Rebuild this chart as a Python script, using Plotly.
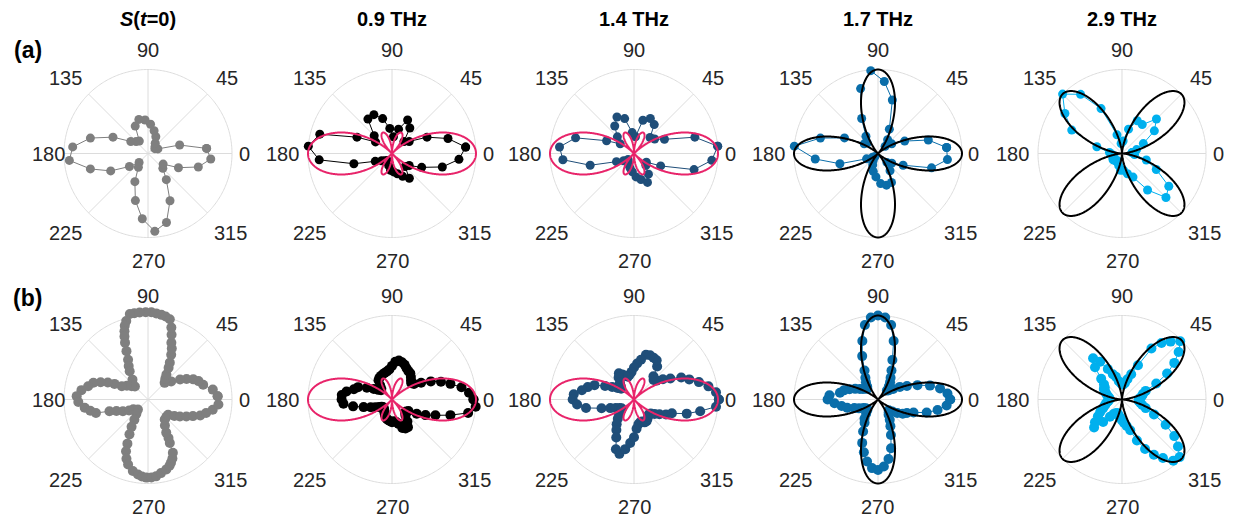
import numpy as np
import plotly.graph_objects as go

# ---------------- data ----------------
theta_a = list(range(5, 360, 10))          # row (a): 36 angles
theta_b = list(range(0, 360, 5))           # row (b): 72 angles

r_a_s0 = [0.70, 0.39, 0.13, 0.10, 0.12, 0.15, 0.22, 0.28, 0.35, 0.40, 0.42, 0.36,
          0.18, 0.20, 0.25, 0.46, 0.71, 0.90, 0.94, 0.71, 0.49, 0.27, 0.15, 0.20,
          0.37, 0.58, 0.78, 0.93, 0.85, 0.62, 0.38, 0.25, 0.22, 0.40, 0.62, 0.75]
r_a_09 = [0.88, 0.69, 0.46, 0.25, 0.20, 0.37, 0.44, 0.30, 0.20, 0.30, 0.43, 0.51,
          0.50, 0.30, 0.24, 0.46, 0.89, 1.00, 0.87, 0.47, 0.22, 0.15, 0.12, 0.10,
          0.12, 0.15, 0.20, 0.22, 0.25, 0.30, 0.36, 0.22, 0.25, 0.39, 0.62, 0.80]
r_a_14 = [1.00, 0.75, 0.40, 0.30, 0.27, 0.42, 0.46, 0.41, 0.20, 0.25, 0.43, 0.48,
          0.40, 0.28, 0.20, 0.36, 0.72, 0.89, 0.85, 0.54, 0.23, 0.15, 0.10, 0.12,
          0.15, 0.18, 0.22, 0.28, 0.32, 0.38, 0.30, 0.20, 0.18, 0.35, 0.74, 0.93]
r_a_17 = [0.82, 0.62, 0.35, 0.20, 0.12, 0.20, 0.32, 0.66, 0.86, 0.99, 0.80, 0.46,
          0.25, 0.18, 0.20, 0.44, 0.71, 1.00, 0.75, 0.47, 0.15, 0.08, 0.05, 0.10,
          0.15, 0.22, 0.28, 0.36, 0.39, 0.38, 0.25, 0.15, 0.20, 0.33, 0.66, 0.83]
r_a_29 = [0.12, 0.18, 0.28, 0.47, 0.58, 0.42, 0.43, 0.30, 0.15, 0.12, 0.23, 0.59,
          0.86, 1.00, 0.83, 0.66, 0.31, 0.15, 0.12, 0.10, 0.12, 0.13, 0.12, 0.10,
          0.12, 0.15, 0.20, 0.20, 0.25, 0.31, 0.53, 0.74, 0.68, 0.45, 0.30, 0.15]

theta_b_s0 = [2.7, 8.7, 15, 20, 24, 28, 32, 38, 45, 50, 53.7, 57, 59.4, 62.6, 65, 67.6,
              70, 72, 74.8, 78, 81, 84.5, 87.8, 91.5, 95.5, 99, 102, 105.5, 107.5, 109,
              110.5, 112, 114, 116.6, 120, 123, 128, 135, 141, 147, 153, 155, 157, 160,
              163, 167.5, 172, 177.3, 182, 187.5, 191, 194.5, 197, 200, 205, 210, 213.7,
              225, 231, 236, 239, 242, 245, 247, 250, 253, 258, 262.4, 265.5, 268.8,
              272.5, 276, 280, 284.7, 288, 290, 292.5, 295, 296.6, 298, 298.8, 303, 310,
              317, 323, 328, 332, 336, 339.7, 343, 347, 351, 356]
r_b_s0 = [0.83, 0.78, 0.68, 0.64, 0.59, 0.52, 0.45, 0.35, 0.28, 0.32, 0.37, 0.45, 0.51,
          0.60, 0.67, 0.73, 0.82, 0.90, 0.99, 1.01, 1.02, 1.03, 1.04, 1.04, 1.04, 1.04,
          1.04, 0.97, 0.92, 0.86, 0.80, 0.73, 0.63, 0.53, 0.46, 0.40, 0.30, 0.22, 0.25,
          0.30, 0.35, 0.44, 0.52, 0.60, 0.68, 0.73, 0.80, 0.85, 0.83, 0.76, 0.70, 0.64,
          0.48, 0.40, 0.33, 0.26, 0.21, 0.17, 0.22, 0.29, 0.38, 0.47, 0.58, 0.67, 0.75,
          0.81, 0.87, 0.90, 0.92, 0.93, 0.93, 0.92, 0.89, 0.86, 0.83, 0.80, 0.76, 0.70,
          0.58, 0.52, 0.45, 0.37, 0.31, 0.30, 0.30, 0.37, 0.43, 0.50, 0.57, 0.65, 0.71,
          0.78, 0.84]
r_b_09 = [0.97, 0.92, 0.84, 0.72, 0.62, 0.51, 0.40, 0.32, 0.30, 0.32, 0.35, 0.38,
          0.39, 0.41, 0.44, 0.46, 0.47, 0.45, 0.40, 0.36, 0.34, 0.33, 0.32, 0.31,
          0.30, 0.28, 0.22, 0.18, 0.17, 0.20, 0.25, 0.33, 0.43, 0.47, 0.55, 0.60,
          0.60, 0.58, 0.47, 0.35, 0.27, 0.22, 0.18, 0.15, 0.14, 0.14, 0.15, 0.16,
          0.18, 0.20, 0.22, 0.24, 0.25, 0.26, 0.27, 0.26, 0.27, 0.30, 0.36, 0.38,
          0.38, 0.32, 0.25, 0.22, 0.22, 0.24, 0.34, 0.44, 0.55, 0.72, 0.92, 1.00]
r_b_14 = [1.01, 0.98, 0.90, 0.80, 0.70, 0.62, 0.50, 0.42, 0.35, 0.33, 0.36, 0.48,
          0.54, 0.55, 0.56, 0.55, 0.48, 0.43, 0.38, 0.33, 0.30, 0.28, 0.30, 0.33,
          0.36, 0.32, 0.26, 0.22, 0.20, 0.24, 0.30, 0.38, 0.50, 0.57, 0.63, 0.72,
          0.73, 0.68, 0.58, 0.40, 0.30, 0.24, 0.20, 0.18, 0.20, 0.25, 0.30, 0.36,
          0.42, 0.50, 0.63, 0.67, 0.60, 0.52, 0.45, 0.35, 0.30, 0.28, 0.28, 0.30,
          0.30, 0.28, 0.26, 0.25, 0.26, 0.30, 0.35, 0.42, 0.48, 0.65, 0.80, 0.98]
r_b_17 = [0.86, 0.83, 0.75, 0.64, 0.50, 0.38, 0.30, 0.22, 0.17, 0.15, 0.20, 0.25,
          0.30, 0.38, 0.50, 0.72, 0.90, 0.98, 1.00, 0.98, 0.90, 0.72, 0.55, 0.38,
          0.30, 0.25, 0.20, 0.18, 0.20, 0.22, 0.25, 0.30, 0.36, 0.42, 0.46, 0.58,
          0.60, 0.52, 0.44, 0.38, 0.30, 0.25, 0.20, 0.18, 0.17, 0.18, 0.22, 0.28,
          0.32, 0.42, 0.55, 0.65, 0.75, 0.82, 0.84, 0.80, 0.72, 0.60, 0.45, 0.35,
          0.28, 0.22, 0.20, 0.18, 0.22, 0.28, 0.34, 0.38, 0.45, 0.60, 0.72, 0.82]
r_b_29 = [0.20, 0.22, 0.24, 0.26, 0.30, 0.45, 0.62, 0.76, 0.88, 0.98, 0.90, 0.82,
          0.70, 0.45, 0.32, 0.25, 0.20, 0.18, 0.18, 0.20, 0.22, 0.28, 0.32, 0.40,
          0.52, 0.60, 0.50, 0.35, 0.28, 0.25, 0.25, 0.22, 0.20, 0.18, 0.16, 0.15,
          0.15, 0.16, 0.18, 0.20, 0.22, 0.25, 0.30, 0.35, 0.42, 0.47, 0.35, 0.25,
          0.20, 0.18, 0.17, 0.18, 0.20, 0.22, 0.25, 0.28, 0.32, 0.38, 0.52, 0.65,
          0.76, 0.85, 0.95, 0.97, 0.87, 0.76, 0.60, 0.42, 0.30, 0.25, 0.22, 0.20]

# fit models (amplitude, lobe orientation in degrees)
fit_amp = {"09": 1.0, "14": 1.0, "17": 1.0, "29": 1.0}
fit_phase = {"17": 0.0, "29": 45.0}

col_titles = ["<b><i>S</i>(<i>t</i>=0)</b>", "<b>0.9 THz</b>", "<b>1.4 THz</b>",
              "<b>1.7 THz</b>", "<b>2.9 THz</b>"]
row_labels = ["<b>(a)</b>", "<b>(b)</b>"]
tick_vals = [0, 45, 90, 135, 180, 225, 270, 315]
tick_text = ["0", "45", "90", "135", "180", "225", "270", "315"]

colors = ["#7f7f7f", "#000000", "#1f4e79", "#0a6eaa", "#00b0ee"]
fit_colors = [None, "#e8246a", "#e8246a", "#000000", "#000000"]
grid_color = "#dcdcdc"

# ---------------- fits ----------------
tf = np.linspace(0, 360, 1441)
tr = np.radians(tf)
def fit_curve(key):
    if key in ("09", "14"):
        return fit_amp[key] * np.abs(np.cos(tr) * np.cos(2 * tr))
    ph = np.radians(fit_phase[key])
    return fit_amp[key] * np.cos(2 * (tr - ph)) ** 2

# grid: outer circle at r = 1 and spokes every 45 deg
circ_t = np.linspace(0, 360, 361)
spoke_t, spoke_r = [], []
for a in tick_vals:
    spoke_t += [a, a, None]
    spoke_r += [0, 1, None]

# ---------------- figure layout (pixels) ----------------
W, H = 1234, 520
cx = [148, 392, 634, 878, 1122]
cy = [153.5, 399.5]
R = 84
RMAX = 1.06
Rd = R * RMAX
# label centre offsets from the circle centre, per tick angle (px, y down)
lab_off = {0: (96, 0), 45: (79, -76), 90: (0, -103.5), 135: (-83, -76),
           180: (-110, 0), 225: (-83, 80), 270: (0, 107), 315: (82, 80)}

rows = [
    [(theta_a, r_a_s0, None), (theta_a, r_a_09, "09"), (theta_a, r_a_14, "14"),
     (theta_a, r_a_17, "17"), (theta_a, r_a_29, "29")],
    [(theta_b_s0, r_b_s0, None), (theta_b, r_b_09, "09"), (theta_b, r_b_14, "14"),
     (theta_b, r_b_17, "17"), (theta_b, r_b_29, "29")],
]
msize = [9, 10]

fig = go.Figure()
layout = {}
annotations = []
font_fam = "Liberation Sans, Arial, sans-serif"
n = 0
for i in range(2):
    for j in range(5):
        n += 1
        name = "polar" if n == 1 else f"polar{n}"
        sub = name
        th, rr, key = rows[i][j]
        fig.add_trace(go.Scatterpolar(
            theta=spoke_t, r=spoke_r, mode="lines", subplot=sub,
            line=dict(color=grid_color, width=1), hoverinfo="skip", showlegend=False))
        fig.add_trace(go.Scatterpolar(
            theta=circ_t, r=np.ones_like(circ_t), mode="lines", subplot=sub,
            line=dict(color=grid_color, width=1), hoverinfo="skip", showlegend=False))
        th_c = list(th) + [th[0]]
        rr_c = list(rr) + [rr[0]]
        fig.add_trace(go.Scatterpolar(
            theta=th_c, r=rr_c, mode="lines+markers", subplot=sub,
            line=dict(color=colors[j], width=1),
            marker=dict(color=colors[j], size=msize[i]),
            cliponaxis=False, showlegend=False))
        if key is not None:
            fig.add_trace(go.Scatterpolar(
                theta=tf, r=fit_curve(key), mode="lines", subplot=sub,
                line=dict(color=fit_colors[j], width=2),
                cliponaxis=False, showlegend=False))
        x0 = (cx[j] - Rd) / W
        x1 = (cx[j] + Rd) / W
        y0 = 1 - (cy[i] + Rd) / H
        y1 = 1 - (cy[i] - Rd) / H
        layout[name] = dict(
            domain=dict(x=[x0, x1], y=[y0, y1]),
            bgcolor="rgba(0,0,0,0)",
            radialaxis=dict(visible=False, range=[0, RMAX]),
            angularaxis=dict(
                rotation=0, direction="counterclockwise",
                tickmode="array", tickvals=tick_vals, ticktext=tick_text,
                showgrid=False, showline=False, ticks="", showticklabels=False,
            ),
        )
        # angular tick labels
        for a, txt in zip(tick_vals, tick_text):
            dx, dy = lab_off[a]
            if j == 0 and a == 180:
                dx = -100
            annotations.append(dict(
                x=(cx[j] + dx) / W, y=1 - (cy[i] + dy) / H, xref="paper", yref="paper",
                xanchor="center", yanchor="middle", text=txt, showarrow=False,
                font=dict(size=20, color="#262626", family=font_fam)))

for j in range(5):
    annotations.append(dict(x=cx[j] / W, y=1 - 19 / H, xref="paper", yref="paper",
                            xanchor="center", yanchor="middle",
                            text=col_titles[j], showarrow=False,
                            font=dict(size=20, color="black", family=font_fam)))
for i, yy in enumerate([50, 298]):
    annotations.append(dict(x=27.5 / W, y=1 - yy / H, xref="paper", yref="paper",
                            xanchor="center", yanchor="middle",
                            text=row_labels[i], showarrow=False,
                            font=dict(size=23, color="black", family=font_fam)))

fig.update_layout(width=W, height=H, margin=dict(l=0, r=0, t=0, b=0),
                  paper_bgcolor="white", plot_bgcolor="white",
                  annotations=annotations, showlegend=False, **layout)

fig.write_html("out.html")
